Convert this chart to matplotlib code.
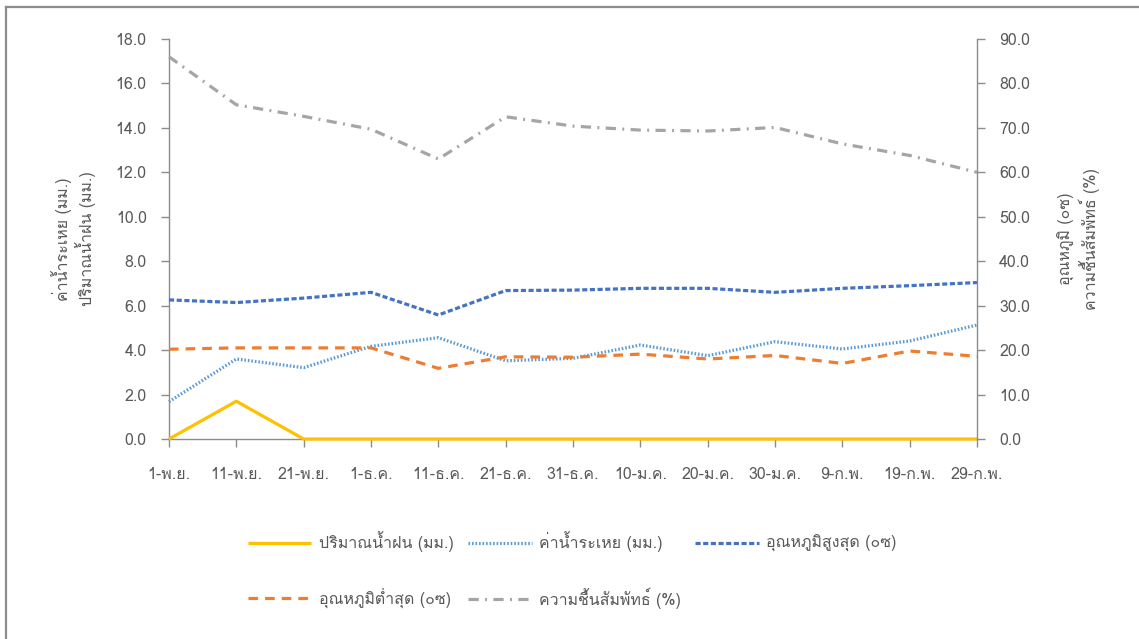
import matplotlib
matplotlib.use("Agg")
import matplotlib.pyplot as plt
from matplotlib import font_manager
from matplotlib.ft2font import FT2Font
from matplotlib.lines import Line2D

# หาฟอนต์ที่มีอักษรไทย
def find_thai_font():
    for f in font_manager.fontManager.ttflist:
        try:
            if 0x0E01 in FT2Font(f.fname).get_charmap():
                return f.name
        except Exception:
            pass
    return None

thai_font = find_thai_font()
families = ["DejaVu Sans"]
if thai_font:
    families = [thai_font, "DejaVu Sans"]
plt.rcParams["font.family"] = families

# ข้อมูล
dates = ["1-พ.ย.", "11-พ.ย.", "21-พ.ย.", "1-ธ.ค.", "11-ธ.ค.", "21-ธ.ค.", "31-ธ.ค.",
         "10-ม.ค.", "20-ม.ค.", "30-ม.ค.", "9-ก.พ.", "19-ก.พ.", "29-ก.พ."]
rain = [0.0, 1.7, 0, 0, 0, 0, 0, 0, 0, 0, 0, 0, 0]
evap = [1.68, 3.6, 3.21, 4.17, 4.56, 3.52, 3.63, 4.23, 3.75, 4.38, 4.05, 4.41, 5.13]
tmax = [31.3, 30.7, 31.7, 33.0, 27.9, 33.4, 33.5, 33.9, 33.9, 33.0, 33.9, 34.5, 35.2]
tmin = [20.2, 20.5, 20.5, 20.5, 15.9, 18.5, 18.4, 19.1, 18.0, 18.8, 17.0, 19.8, 18.6]
humid = [86.0, 75.2, 72.6, 69.7, 63.0, 72.5, 70.4, 69.5, 69.3, 70.1, 66.4, 63.8, 60.0]

names = ["ปริมาณน้ำฝน (มม.)", "ค่าน้ำระเหย (มม.)", "อุณหภูมิสูงสุด (๐ซ)",
         "อุณหภูมิต่ำสุด (๐ซ)", "ความชื้นสัมพัทธ์ (%)"]

c_rain = "#FFC000"
c_evap = "#5B9BD5"
c_tmax = "#4472C4"
c_tmin = "#ED7D31"
c_hum = "#A5A5A5"
txt = "#595959"
spine_c = "#8C8C8C"

fig = plt.figure(figsize=(11.39, 6.39), dpi=100)
ax = fig.add_axes([169 / 1139, 1 - 439 / 639, 808 / 1139, 400 / 639])
ax2 = ax.twinx()

x = list(range(len(dates)))
lw = 2.3
h1, = ax.plot(x, rain, color=c_rain, lw=lw, solid_capstyle="butt", clip_on=False, zorder=3)
h2, = ax.plot(x, evap, color=c_evap, lw=lw, linestyle=(0, (0.5, 0.6)), clip_on=False)
h3, = ax2.plot(x, tmax, color=c_tmax, lw=lw, linestyle=(0, (1.6, 0.8)), clip_on=False)
h4, = ax2.plot(x, tmin, color=c_tmin, lw=lw, linestyle=(0, (3.0, 2.2)), clip_on=False)
h5, = ax2.plot(x, humid, color=c_hum, lw=lw, linestyle=(0, (3.2, 2.0, 0.6, 2.0)), clip_on=False)

ax.set_xlim(0, len(dates) - 1)
ax.set_ylim(0, 18)
ax2.set_ylim(0, 90)
ax.set_yticks([i * 2 for i in range(10)])
ax2.set_yticks([i * 10 for i in range(10)])
ax.set_yticklabels([f"{i * 2:.1f}" for i in range(10)])
ax2.set_yticklabels([f"{i * 10:.1f}" for i in range(10)])
ax.set_xticks(x)
ax.set_xticklabels(dates)

for a in (ax, ax2):
    for s in a.spines.values():
        s.set_visible(False)
    a.tick_params(colors=spine_c, labelcolor=txt, labelsize=11.5, length=6, width=1)
ax.spines["left"].set_visible(True)
ax.spines["bottom"].set_visible(True)
ax2.spines["right"].set_visible(True)
for s in (ax.spines["left"], ax.spines["bottom"], ax2.spines["right"]):
    s.set_color(spine_c)
    s.set_linewidth(1)
ax.tick_params(axis="x", pad=14)
ax.tick_params(axis="y", pad=10)
ax2.tick_params(axis="y", pad=10)

ax.set_ylabel("ค่าน้ำระเหย (มม.)\nปริมาณน้ำฝน (มม.)", color=txt, fontsize=11.5,
              multialignment="center", labelpad=14)
ax2.set_ylabel("อุณหภูมิ (๐ซ)\nความชื้นสัมพัทธ์ (%)", color=txt, fontsize=11.5,
               multialignment="center", rotation=90, labelpad=20)

# legend เรียงแถวแบบ Excel
leg = fig.legend([h1, h4, h2, h5, h3], [names[0], names[3], names[1], names[4], names[2]],
                 ncol=3, loc="center", bbox_to_anchor=(572 / 1139, 1 - 570 / 639),
                 frameon=False, fontsize=11.5, handlelength=4.0, handletextpad=0.45,
                 columnspacing=0.9, labelspacing=2.2, labelcolor=txt)

# กรอบรูป (เส้นบนและซ้าย)
fig.add_artist(Line2D([6 / 1139, 1], [1 - 7 / 639, 1 - 7 / 639], color="#8C8C8C", lw=1.6,
                      transform=fig.transFigure))
fig.add_artist(Line2D([6 / 1139, 6 / 1139], [0, 1 - 7 / 639], color="#8C8C8C", lw=1.6,
                      transform=fig.transFigure))

fig.savefig("out.png", dpi=100, facecolor="white")
